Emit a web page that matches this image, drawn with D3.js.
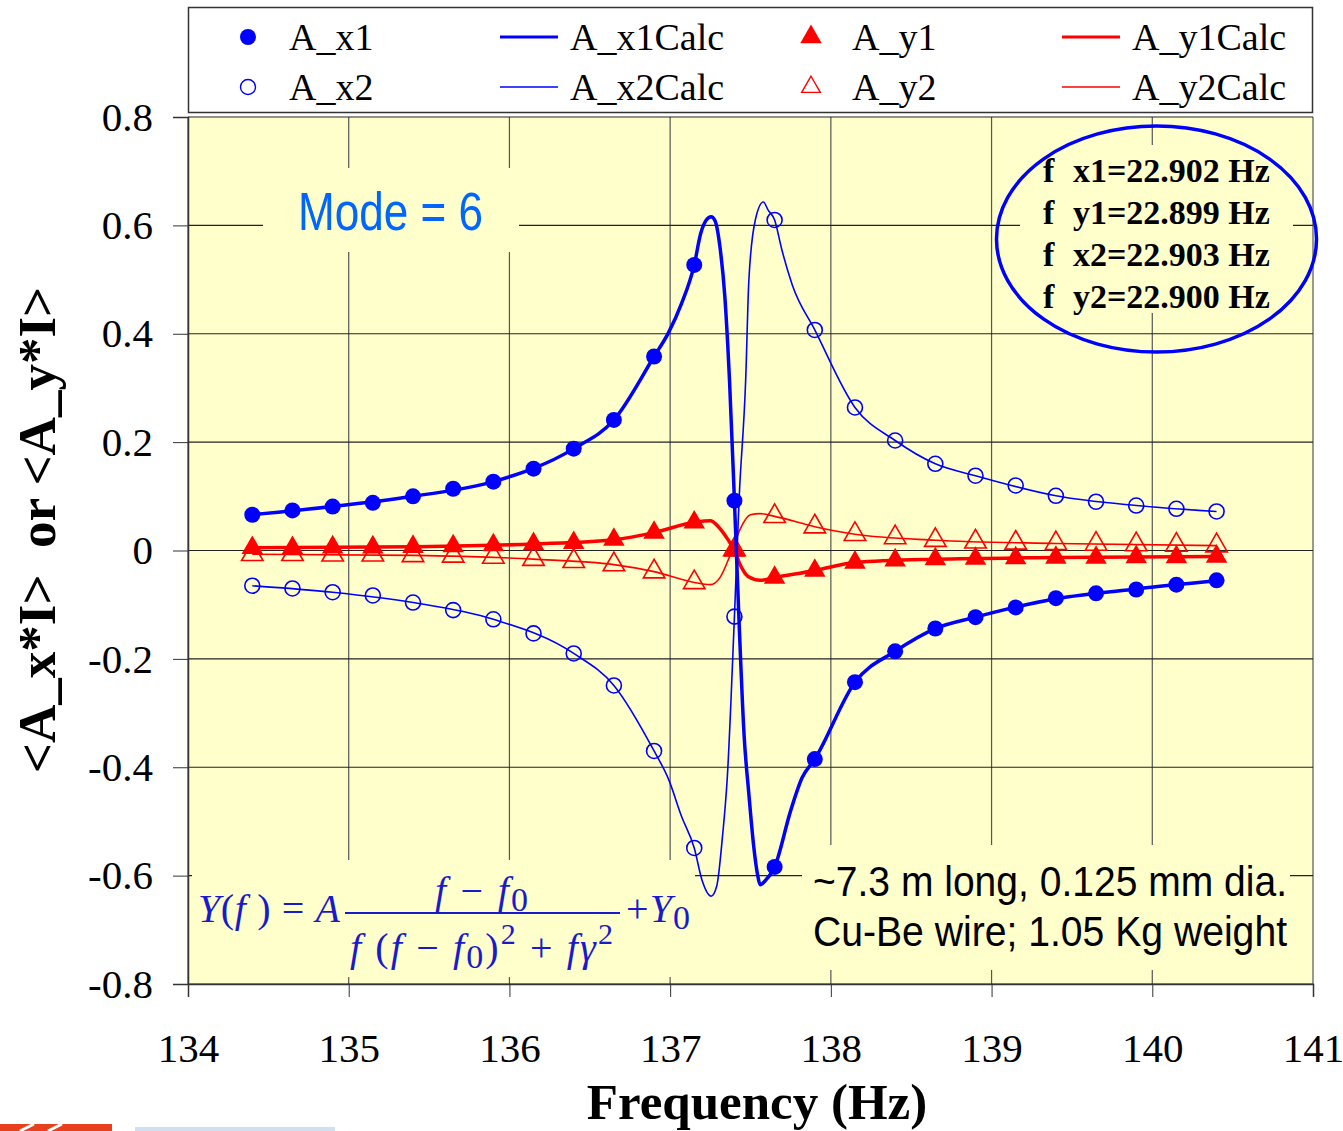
<!DOCTYPE html>
<meta charset="utf-8">
<style>
body { margin: 0; background: #fff; }
svg text { font-family: "Liberation Serif", "Times New Roman", serif; }
.narrow { font-family: "Liberation Sans Narrow", "Arial Narrow", "Liberation Sans", sans-serif !important; }
</style>
<body>
<script src="https://cdn.jsdelivr.net/npm/d3@7"></script>
<script>

var width = 1343,
    height = 1131;

// measured frequencies (Hz)
var freqs = [134.4, 134.65, 134.9, 135.15, 135.4, 135.65, 135.9, 136.15, 136.4, 136.65, 136.9, 137.15,
             137.4, 137.65, 137.9, 138.15, 138.4, 138.65, 138.9, 139.15, 139.4, 139.65, 139.9, 140.15, 140.4];

var ax1 = [0.066, 0.074, 0.081, 0.088, 0.100, 0.114, 0.127, 0.151, 0.188, 0.241, 0.358, 0.527,
           0.092, -0.584, -0.385, -0.243, -0.186, -0.144, -0.123, -0.105, -0.088, -0.079, -0.072, -0.063, -0.055];
var ax2 = [-0.065, -0.070, -0.077, -0.083, -0.096, -0.110, -0.127, -0.153, -0.190, -0.249, -0.370, -0.549,
           -0.122, 0.610, 0.407, 0.264, 0.203, 0.160, 0.138, 0.120, 0.101, 0.090, 0.083, 0.077, 0.072];
var ay1 = [0.005, 0.005, 0.006, 0.006, 0.007, 0.008, 0.010, 0.012, 0.014, 0.020, 0.033, 0.052,
           0.000, -0.050, -0.037, -0.022, -0.018, -0.016, -0.015, -0.014, -0.013, -0.013, -0.012, -0.012, -0.011];
var ay2 = [-0.007, -0.007, -0.008, -0.008, -0.009, -0.010, -0.012, -0.016, -0.020, -0.026, -0.039, -0.059,
           0.002, 0.063, 0.044, 0.030, 0.024, 0.019, 0.016, 0.014, 0.013, 0.012, 0.011, 0.010, 0.009];

// fitted curves as [f, value]
var x1Calc = [[134.4, 0.066], [134.9, 0.081], [135.4, 0.100], [135.9, 0.127], [136.4, 0.188], [136.65, 0.241],
  [136.9, 0.358], [136.99, 0.402], [137.07, 0.455], [137.15, 0.527], [137.19, 0.585], [137.225, 0.610],
  [137.255, 0.616], [137.28, 0.608], [137.31, 0.560], [137.34, 0.470], [137.37, 0.310], [137.4, 0.092],
  [137.43, -0.140], [137.46, -0.340], [137.49, -0.450], [137.52, -0.546], [137.545, -0.600], [137.56, -0.617],
  [137.59, -0.610], [137.65, -0.584], [137.75, -0.480], [137.82, -0.420], [137.9, -0.385], [138.15, -0.243],
  [138.4, -0.186], [138.65, -0.144], [138.9, -0.123], [139.4, -0.089], [139.9, -0.071], [140.4, -0.056]];
var x2Calc = [[134.4, -0.065], [134.9, -0.077], [135.4, -0.096], [135.9, -0.127], [136.4, -0.190], [136.65, -0.249],
  [136.9, -0.370], [136.99, -0.422], [137.07, -0.490], [137.15, -0.549], [137.2, -0.610], [137.255, -0.638],
  [137.29, -0.619], [137.325, -0.530], [137.355, -0.422], [137.4, -0.122], [137.43, 0.100], [137.47, 0.315],
  [137.49, 0.500], [137.53, 0.610], [137.58, 0.643], [137.61, 0.628], [137.65, 0.610], [137.695, 0.555],
  [137.76, 0.490], [137.9, 0.407], [138.15, 0.264], [138.4, 0.203], [138.65, 0.160],
  [138.9, 0.138], [139.4, 0.101], [139.9, 0.083], [140.4, 0.072]];
var y1Calc = [[134.4, 0.005], [135.4, 0.007], [136.15, 0.012], [136.65, 0.020], [136.9, 0.033], [137.15, 0.052],
  [137.25, 0.055], [137.30, 0.044], [137.36, 0.020], [137.4, 0.000], [137.435, -0.026], [137.485, -0.048],
  [137.56, -0.055], [137.65, -0.050], [137.9, -0.037], [138.15, -0.022], [138.65, -0.016], [139.4, -0.013],
  [140.4, -0.011]];
var y2Calc = [[134.4, -0.007], [135.4, -0.009], [136.15, -0.016], [136.65, -0.026], [136.9, -0.039], [137.15, -0.059],
  [137.25, -0.063], [137.31, -0.050], [137.37, -0.011], [137.4, 0.012], [137.435, 0.039], [137.5, 0.066],
  [137.56, 0.068], [137.65, 0.063], [137.9, 0.044], [138.15, 0.030], [138.65, 0.019], [139.4, 0.013],
  [140.4, 0.009]];

var xTicks = [134, 135, 136, 137, 138, 139, 140, 141];
var yTicks = [-0.8, -0.6, -0.4, -0.2, 0, 0.2, 0.4, 0.6, 0.8];

var fitFreqs = ["f  x1=22.902 Hz", "f  y1=22.899 Hz", "f  x2=22.903 Hz", "f  y2=22.900 Hz"];
var wireNotes = ["~7.3 m long, 0.125 mm dia.", "Cu-Be wire; 1.05 Kg weight"];

var blue = "#0000ff", red = "#ff0000", plotBg = "#ffffcc";

var x = d3.scaleLinear().domain([134, 141]).range([188, 1313]);
var y = d3.scaleLinear().domain([-0.8, 0.8]).range([984, 117]);

var svg = d3.select("body").append("svg")
    .attr("width", width)
    .attr("height", height);

// plot background
svg.append("rect")
    .attr("x", x(134)).attr("y", y(0.8))
    .attr("width", x(141) - x(134)).attr("height", y(-0.8) - y(0.8))
    .style("fill", plotBg);

// grid
svg.append("g").selectAll("line").data(xTicks).enter().append("line")
    .attr("x1", function(d) { return x(d); }).attr("x2", function(d) { return x(d); })
    .attr("y1", y(0.8)).attr("y2", y(-0.8))
    .style("stroke", "#555").style("stroke-width", 1.2);
svg.append("g").selectAll("line").data(yTicks).enter().append("line")
    .attr("x1", x(134)).attr("x2", x(141))
    .attr("y1", function(d) { return y(d); }).attr("y2", function(d) { return y(d); })
    .style("stroke", "#222").style("stroke-width", 1.2);

// text boxes hide the grid behind them
var boxes = [[263, 168, 256, 84], [1020, 145, 273, 168], [192, 860, 503, 117], [802, 845, 488, 125]];
svg.append("g").selectAll("rect").data(boxes).enter().append("rect")
    .attr("x", function(d) { return d[0]; }).attr("y", function(d) { return d[1]; })
    .attr("width", function(d) { return d[2]; }).attr("height", function(d) { return d[3]; })
    .style("fill", plotBg);

// axes
var yAxis = d3.axisLeft(y).tickValues(yTicks).tickSize(15).tickPadding(20)
    .tickFormat(function(d) { return d === 0 ? "0" : d.toFixed(1); });
svg.append("g").attr("transform", "translate(" + x(134) + ",0)").call(yAxis)
  .call(function(g) { g.select(".domain").style("stroke", "#333").style("stroke-width", 1.5); g.selectAll(".tick line").style("stroke", "#333"); })
  .selectAll("text").style("font-family", "Liberation Serif").style("font-size", "41px");

var xAxis = d3.axisBottom(x).tickValues(xTicks).tickSize(13).tickPadding(36).tickFormat(d3.format("d"));
svg.append("g").attr("transform", "translate(0," + y(-0.8) + ")").call(xAxis)
  .call(function(g) { g.select(".domain").style("stroke", "#333").style("stroke-width", 1.5); g.selectAll(".tick line").style("stroke", "#333"); })
  .selectAll("text").style("font-family", "Liberation Serif").style("font-size", "41px");

// curves
var line = d3.line()
    .x(function(d) { return x(d[0]); })
    .y(function(d) { return y(d[1]); })
    .curve(d3.curveMonotoneX);

function pairs(vals) { return freqs.map(function(f, i) { return [f, vals[i]]; }); }

var tri = d3.symbol().type(d3.symbolTriangle).size(200);

svg.append("path").datum(y2Calc).attr("d", line)
    .style("fill", "none").style("stroke", red).style("stroke-width", 1.6);
svg.append("path").datum(y1Calc).attr("d", line)
    .style("fill", "none").style("stroke", red).style("stroke-width", 3.5);

svg.append("g").selectAll("path").data(pairs(ay2)).enter().append("path")
    .attr("d", tri)
    .attr("transform", function(d) { return "translate(" + x(d[0]) + "," + y(d[1]) + ")"; })
    .style("fill", "none").style("stroke", red).style("stroke-width", 1.6);
svg.append("g").selectAll("path").data(pairs(ay1)).enter().append("path")
    .attr("d", tri)
    .attr("transform", function(d) { return "translate(" + x(d[0]) + "," + y(d[1]) + ")"; })
    .style("fill", red);

svg.append("path").datum(x2Calc).attr("d", line)
    .style("fill", "none").style("stroke", blue).style("stroke-width", 1.6);
svg.append("path").datum(x1Calc).attr("d", line)
    .style("fill", "none").style("stroke", blue).style("stroke-width", 3.5);

svg.append("g").selectAll("circle").data(pairs(ax2)).enter().append("circle")
    .attr("cx", function(d) { return x(d[0]); }).attr("cy", function(d) { return y(d[1]); })
    .attr("r", 7.5)
    .style("fill", "none").style("stroke", blue).style("stroke-width", 1.6);
svg.append("g").selectAll("circle").data(pairs(ax1)).enter().append("circle")
    .attr("cx", function(d) { return x(d[0]); }).attr("cy", function(d) { return y(d[1]); })
    .attr("r", 8)
    .style("fill", blue);

// Mode label
svg.append("text").attr("class", "narrow")
    .attr("x", 298).attr("y", 230)
    .attr("textLength", 185).attr("lengthAdjust", "spacingAndGlyphs")
    .style("font-size", "53px").style("fill", "#0066ff")
    .text("Mode = 6");

// fit results in ellipse
svg.append("ellipse")
    .attr("cx", 1156.5).attr("cy", 239).attr("rx", 160).attr("ry", 113)
    .style("fill", "none").style("stroke", blue).style("stroke-width", 3.5);
var fit = svg.append("g").selectAll("text").data(fitFreqs).enter().append("text")
    .attr("y", function(d, i) { return 182 + i * 42; })
    .style("font-size", "34px").style("font-weight", "bold");
fit.append("tspan").attr("x", 1043).text("f");
fit.append("tspan").attr("x", 1073).text(function(d) { return d.slice(3); });

// wire note
svg.append("g").selectAll("text").data(wireNotes).enter().append("text")
    .attr("class", "narrow")
    .attr("x", 1287).attr("y", function(d, i) { return 896 + i * 50; })
    .attr("text-anchor", "end")
    .attr("textLength", 474).attr("lengthAdjust", "spacingAndGlyphs")
    .style("font-size", "42px").style("fill", "#000")
    .text(function(d) { return d; });

// formula
var fcol = "#1a1acd";
var formula = svg.append("g").style("fill", fcol).style("font-size", "40px");
var lhs = formula.append("text").attr("x", 198).attr("y", 922)
    .attr("textLength", 142).attr("lengthAdjust", "spacing");
lhs.append("tspan").style("font-style", "italic").text("Y");
lhs.append("tspan").text("(");
lhs.append("tspan").style("font-style", "italic").text("f");
lhs.append("tspan").text(" ) = ");
lhs.append("tspan").style("font-style", "italic").text("A");
var num = formula.append("text").attr("x", 435).attr("y", 904)
    .attr("textLength", 93).attr("lengthAdjust", "spacing");
num.append("tspan").style("font-style", "italic").text("f");
num.append("tspan").text(" \u2212 ");
num.append("tspan").style("font-style", "italic").text("f");
num.append("tspan").attr("dy", 7).style("font-size", "34px").text("0");
formula.append("line").attr("x1", 345).attr("x2", 620).attr("y1", 913).attr("y2", 913)
    .style("stroke", fcol).style("stroke-width", 2);
var den = formula.append("text").attr("x", 350).attr("y", 961)
    .attr("textLength", 263).attr("lengthAdjust", "spacing");
den.append("tspan").style("font-style", "italic").text("f");
den.append("tspan").text(" (");
den.append("tspan").style("font-style", "italic").text("f");
den.append("tspan").text(" \u2212 ");
den.append("tspan").style("font-style", "italic").text("f");
den.append("tspan").attr("dy", 7).style("font-size", "34px").text("0");
den.append("tspan").attr("dy", -7).text(")");
den.append("tspan").attr("dy", -17).style("font-size", "30px").text("2");
den.append("tspan").attr("dy", 17).text(" + ");
den.append("tspan").style("font-style", "italic").text("f\u03b3");
den.append("tspan").attr("dy", -17).style("font-size", "30px").text("2");
var rhs = formula.append("text").attr("x", 626).attr("y", 922)
    .attr("textLength", 64).attr("lengthAdjust", "spacing");
rhs.append("tspan").text("+");
rhs.append("tspan").style("font-style", "italic").text("Y");
rhs.append("tspan").attr("dy", 7).style("font-size", "34px").text("0");

// legend
svg.append("rect")
    .attr("x", 188.5).attr("y", 7.5).attr("width", 1124).attr("height", 105)
    .style("fill", "#fff").style("stroke", "#333").style("stroke-width", 1.5);
var legendItems = [
  {name: "A_x1", type: "dot", col: 0, row: 0},
  {name: "A_x2", type: "ring", col: 0, row: 1},
  {name: "A_x1Calc", type: "thick", color: blue, col: 1, row: 0},
  {name: "A_x2Calc", type: "thin", color: blue, col: 1, row: 1},
  {name: "A_y1", type: "tri", col: 2, row: 0},
  {name: "A_y2", type: "otri", col: 2, row: 1},
  {name: "A_y1Calc", type: "thick", color: red, col: 3, row: 0},
  {name: "A_y2Calc", type: "thin", color: red, col: 3, row: 1}
];
var colX = [248, 529, 811, 1091];
var legend = svg.append("g").selectAll("g").data(legendItems).enter().append("g")
    .attr("transform", function(d) { return "translate(" + colX[d.col] + "," + (37 + d.row * 50) + ")"; });
legend.each(function(d) {
  var g = d3.select(this);
  if (d.type === "dot") g.append("circle").attr("r", 8).style("fill", blue);
  if (d.type === "ring") g.append("circle").attr("r", 7.5).style("fill", "none").style("stroke", blue).style("stroke-width", 1.4);
  if (d.type === "tri") g.append("path").attr("d", tri).style("fill", red);
  if (d.type === "otri") g.append("path").attr("d", d3.symbol().type(d3.symbolTriangle).size(150)).style("fill", "none").style("stroke", red).style("stroke-width", 1.4);
  if (d.type === "thick" || d.type === "thin")
    g.append("line").attr("x1", -29).attr("x2", 29)
      .style("stroke", d.color).style("stroke-width", d.type === "thick" ? 3 : 1.5);
});
legend.append("text")
    .attr("x", 41)
    .attr("y", 13)
    .style("font-size", "38px")
    .text(function(d) { return d.name; });

// axis titles
svg.append("text")
    .attr("x", 757).attr("y", 1119).attr("text-anchor", "middle")
    .style("font-size", "51px").style("font-weight", "bold")
    .text("Frequency (Hz)");
svg.append("text")
    .attr("transform", "translate(55,530)rotate(-90)").attr("text-anchor", "middle")
    .style("font-size", "53px").style("font-weight", "bold")
    .attr("xml:space", "preserve")
    .text("<A_x*I>  or <A_y*I>");

// cut-off logo at the bottom edge
svg.append("rect").attr("x", 0).attr("y", 1124).attr("width", 112).attr("height", 7).style("fill", "#e8401c");
svg.append("g").selectAll("line").data([20, 48]).enter().append("line")
    .attr("x1", function(d) { return d; }).attr("x2", function(d) { return d + 14; })
    .attr("y1", 1131).attr("y2", 1124)
    .style("stroke", "#fff").style("stroke-width", 3);
svg.append("rect").attr("x", 135).attr("y", 1127).attr("width", 200).attr("height", 4).style("fill", "#cfe0f5");

</script>
